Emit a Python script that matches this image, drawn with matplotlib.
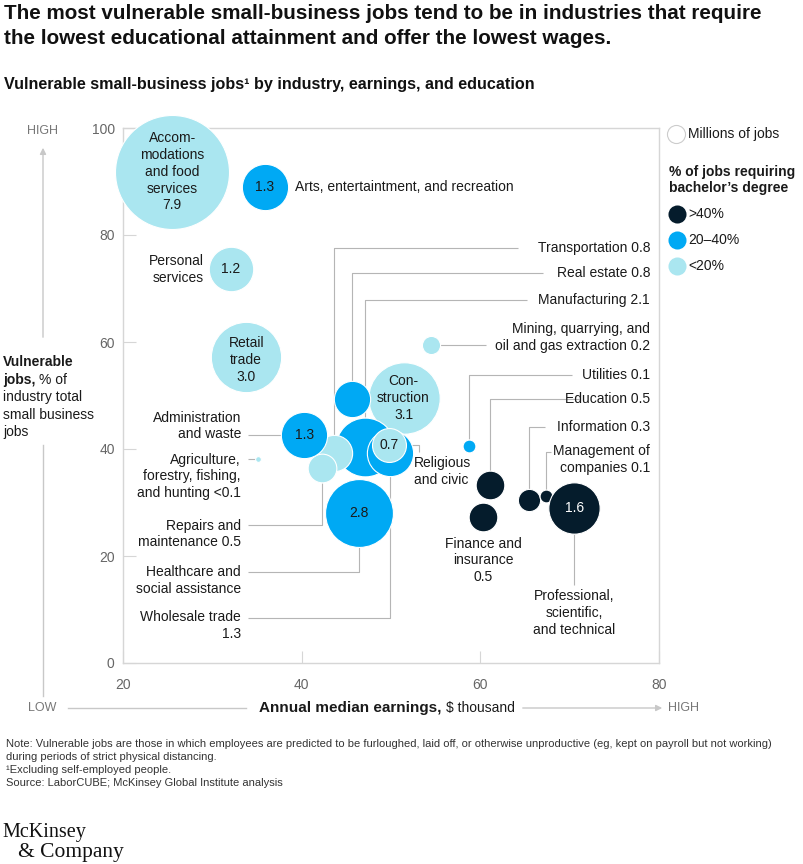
import numpy as np
import matplotlib.pyplot as plt
from matplotlib.lines import Line2D
from matplotlib.patches import FancyArrowPatch

plt.rcParams['font.family'] = ['Liberation Sans', 'DejaVu Sans']

# data
industries = ['Accommodations and food services', 'Arts, entertainment, and recreation',
              'Personal services', 'Retail trade', 'Construction', 'Real estate',
              'Transportation', 'Repairs and maintenance', 'Manufacturing',
              'Healthcare and social assistance', 'Wholesale trade', 'Religious and civic',
              'Administration and waste', 'Agriculture, forestry, fishing, and hunting',
              'Mining, quarrying, and oil and gas extraction', 'Utilities', 'Education',
              'Finance and insurance', 'Information', 'Management of companies',
              'Professional, scientific, and technical']
earnings = [25.5, 35.9, 32.1, 33.8, 51.4, 45.6, 43.6, 42.3, 47.1, 46.4, 49.9, 49.8,
            40.3, 35.1, 54.5, 58.7, 61.1, 60.3, 65.5, 67.3, 70.5]
vulnerable = [91.8, 89.0, 73.6, 57.2, 49.5, 49.3, 39.3, 36.4, 40.4, 28.0, 39.2, 40.8,
              42.6, 38.1, 59.4, 40.6, 33.3, 27.3, 30.5, 31.2, 29.0]
jobs = [7.9, 1.3, 1.2, 3.0, 3.1, 0.8, 0.8, 0.5, 2.1, 2.8, 1.3, 0.7,
        1.3, 0.02, 0.2, 0.1, 0.5, 0.5, 0.3, 0.1, 1.6]
degree = ['low', 'mid', 'low', 'low', 'low', 'mid', 'low', 'low', 'mid', 'mid', 'mid', 'low',
          'mid', 'low', 'low', 'mid', 'high', 'high', 'high', 'high', 'high']
# drawing order (later = on top)
order = [0, 1, 2, 3, 4, 5, 8, 9, 10, 11, 6, 7, 12, 13, 14, 15, 16, 17, 18, 19, 20]

colors = {'high': '#051c2c', 'mid': '#00a9f4', 'low': '#aae6f0'}
LINE = '#b5b5b5'
AX = '#d6d6d6'

W, H = 804, 864
fig = plt.figure(figsize=(W / 100, H / 100), dpi=100)


def fp(x, y):
    # top-left pixel -> figure fraction
    return x / W, 1 - y / H


ax = fig.add_axes([123 / W, 1 - 663 / H, 536 / W, 535 / H])
ax.set_xlim(20, 80)
ax.set_ylim(0, 100)

scale = 853.0  # points^2 per million jobs
for i in order:
    ax.scatter(earnings[i], vulnerable[i], s=jobs[i] * scale, color=colors[degree[i]],
               edgecolor='white', linewidth=0.8, zorder=3, clip_on=False)

# bubble radius in data units
px_x = 536 / 60
px_y = 535 / 100


def rx(i):
    return 57 * np.sqrt(jobs[i] / 7.9) / px_x


def ry(i):
    return 57 * np.sqrt(jobs[i] / 7.9) / px_y


for sp in ax.spines.values():
    sp.set_color(AX)
    sp.set_linewidth(1)
ax.set_xticks([20, 40, 60, 80])
ax.set_yticks([0, 20, 40, 60, 80, 100])
ax.tick_params(direction='in', length=9, color=AX, labelcolor='#666666', labelsize=10)
ax.tick_params(axis='x', pad=11)
ax.tick_params(axis='y', pad=6)

fs = 10
ink = '#1a1a1a'


def lead(pts):
    xs, ys = zip(*pts)
    ax.plot(xs, ys, color=LINE, lw=0.8, zorder=1, solid_capstyle='butt')


# text inside bubbles
ax.text(earnings[0], vulnerable[0], 'Accom-\nmodations\nand food\nservices\n7.9', ha='center',
        va='center', fontsize=fs, color=ink, zorder=5, linespacing=1.25)
ax.text(earnings[1], vulnerable[1], '1.3', ha='center', va='center', fontsize=fs, color=ink, zorder=5)
ax.text(earnings[2], vulnerable[2], '1.2', ha='center', va='center', fontsize=fs, color=ink, zorder=5)
ax.text(earnings[3], vulnerable[3] - 0.6, 'Retail\ntrade\n3.0', ha='center', va='center', fontsize=fs,
        color=ink, zorder=5, linespacing=1.25)
ax.text(earnings[4], vulnerable[4], 'Con-\nstruction\n3.1', ha='center', va='center', fontsize=fs,
        color=ink, zorder=5, linespacing=1.25)
ax.text(earnings[9], vulnerable[9], '2.8', ha='center', va='center', fontsize=fs, color=ink, zorder=5)
ax.text(earnings[11], vulnerable[11], '0.7', ha='center', va='center', fontsize=fs, color=ink, zorder=5)
ax.text(earnings[12], vulnerable[12], '1.3', ha='center', va='center', fontsize=fs, color=ink, zorder=5)
ax.text(earnings[20], vulnerable[20], '1.6', ha='center', va='center', fontsize=fs, color='white', zorder=5)

# plain labels
ax.text(39.3, vulnerable[1], 'Arts, entertaintment, and recreation', ha='left', va='center',
        fontsize=fs, color=ink)
ax.text(29.0, vulnerable[2], 'Personal\nservices', ha='right', va='center', fontsize=fs, color=ink,
        linespacing=1.25)
ax.text(earnings[17], 23.6, 'Finance and\ninsurance\n0.5', ha='center', va='top', fontsize=fs,
        color=ink, linespacing=1.25)

# right-hand callouts
RX = 79.0
ax.text(RX, 77.6, 'Transportation 0.8', ha='right', va='center', fontsize=fs, color=ink)
lead([(earnings[6], vulnerable[6] + ry(6)), (earnings[6], 77.6), (64.2, 77.6)])
ax.text(RX, 72.9, 'Real estate 0.8', ha='right', va='center', fontsize=fs, color=ink)
lead([(earnings[5], vulnerable[5] + ry(5)), (earnings[5], 72.9), (67.0, 72.9)])
ax.text(RX, 67.9, 'Manufacturing 2.1', ha='right', va='center', fontsize=fs, color=ink)
lead([(earnings[8], vulnerable[8] + ry(8)), (earnings[8], 67.9), (65.2, 67.9)])
ax.text(RX, 60.8, 'Mining, quarrying, and\noil and gas extraction 0.2', ha='right', va='center',
        fontsize=fs, color=ink, linespacing=1.25)
lead([(earnings[14] + rx(14), vulnerable[14]), (60.6, vulnerable[14])])
ax.text(RX, 53.8, 'Utilities 0.1', ha='right', va='center', fontsize=fs, color=ink)
lead([(earnings[15], vulnerable[15] + ry(15)), (earnings[15], 53.8), (70.3, 53.8)])
ax.text(RX, 49.3, 'Education 0.5', ha='right', va='center', fontsize=fs, color=ink)
lead([(earnings[16], vulnerable[16] + ry(16)), (earnings[16], 49.3), (71.0, 49.3)])
ax.text(RX, 44.1, 'Information 0.3', ha='right', va='center', fontsize=fs, color=ink)
lead([(earnings[18], vulnerable[18] + ry(18)), (earnings[18], 44.1), (67.2, 44.1)])
ax.text(RX, 38.0, 'Management of\ncompanies 0.1', ha='right', va='center', fontsize=fs, color=ink,
        linespacing=1.25)
lead([(earnings[19], vulnerable[19] + ry(19)), (earnings[19], 39.4), (67.9, 39.4)])
ax.text(52.6, 35.8, 'Religious\nand civic', ha='left', va='center', fontsize=fs, color=ink,
        linespacing=1.25)
lead([(earnings[11] + rx(11), vulnerable[11]), (53.1, vulnerable[11]), (53.1, 39.4)])
ax.text(earnings[20], 13.8, 'Professional,\nscientific,\nand technical', ha='center', va='top',
        fontsize=fs, color=ink, linespacing=1.25)
lead([(earnings[20], vulnerable[20] - ry(20)), (earnings[20], 14.6)])

# left-hand callouts
LX = 33.2
ax.text(LX, 44.3, 'Administration\nand waste', ha='right', va='center', fontsize=fs, color=ink,
        linespacing=1.25)
lead([(34.0, vulnerable[12]), (earnings[12] - rx(12), vulnerable[12])])
ax.text(LX, 34.9, 'Agriculture,\nforestry, fishing,\nand hunting <0.1', ha='right', va='center',
        fontsize=fs, color=ink, linespacing=1.25)
lead([(34.0, vulnerable[13]), (earnings[13] - 0.2, vulnerable[13])])
ax.text(LX, 24.1, 'Repairs and\nmaintenance 0.5', ha='right', va='center', fontsize=fs, color=ink,
        linespacing=1.25)
lead([(34.0, 25.8), (earnings[7], 25.8), (earnings[7], vulnerable[7] - ry(7))])
ax.text(LX, 15.4, 'Healthcare and\nsocial assistance', ha='right', va='center', fontsize=fs,
        color=ink, linespacing=1.25)
lead([(34.0, 17.0), (earnings[9], 17.0), (earnings[9], vulnerable[9] - ry(9))])
ax.text(LX, 7.0, 'Wholesale trade\n1.3', ha='right', va='center', fontsize=fs, color=ink,
        linespacing=1.25)
lead([(34.0, 8.4), (earnings[10], 8.4), (earnings[10], vulnerable[10] - ry(10))])

# titles
fig.text(*fp(4, 4), 'The most vulnerable small-business jobs tend to be in industries that require\n'
         'the lowest educational attainment and offer the lowest wages.', ha='left', va='top',
         fontsize=14.9, fontweight='bold', color='#111111', linespacing=1.38)
fig.text(*fp(4, 84), 'Vulnerable small-business jobs\u00b9 by industry, earnings, and education',
         ha='left', va='center', fontsize=11.6, fontweight='bold', color='#111111')

# legend
fig.add_artist(Line2D([fp(676, 134)[0]], [fp(676, 134)[1]], marker='o', markersize=13,
                      markerfacecolor='white', markeredgecolor='#cccccc', markeredgewidth=0.8,
                      transform=fig.transFigure))
fig.text(*fp(688, 134), 'Millions of jobs', ha='left', va='center', fontsize=fs, color=ink)
fig.text(*fp(669, 180), '% of jobs requiring\nbachelor\u2019s degree', ha='left', va='center',
         fontsize=fs, fontweight='bold', color=ink, linespacing=1.25)
for yy, key, lab in [(214, 'high', '>40%'), (240, 'mid', '20\u201340%'), (266, 'low', '<20%')]:
    fig.add_artist(Line2D([fp(677, yy)[0]], [fp(677, yy)[1]], marker='o', markersize=13,
                          markerfacecolor=colors[key], markeredgecolor='none',
                          transform=fig.transFigure))
    fig.text(*fp(688, yy), lab, ha='left', va='center', fontsize=fs, color=ink)

# axis descriptors
gray = '#c8c8c8'
fig.text(*fp(43, 131), 'HIGH', ha='center', va='center', fontsize=9, color='#777777')
fig.add_artist(FancyArrowPatch(fp(43, 340), fp(43, 145), transform=fig.transFigure,
                               arrowstyle='-|>', mutation_scale=9, color=gray, lw=1))
fig.add_artist(Line2D([fp(43, 445)[0]] * 2, [fp(43, 445)[1], fp(43, 696)[1]], color=gray, lw=1,
                      transform=fig.transFigure))
fig.text(*fp(3, 362), 'Vulnerable', ha='left', va='center', fontsize=fs, fontweight='bold', color=ink)
fig.text(*fp(3, 380), 'jobs,', ha='left', va='center', fontsize=fs, fontweight='bold', color=ink)
fig.text(*fp(39, 380), '% of', ha='left', va='center', fontsize=fs, color=ink)
for yy, line in [(397, 'industry total'), (415, 'small business'), (432, 'jobs')]:
    fig.text(*fp(3, yy), line, ha='left', va='center', fontsize=fs, color=ink)

fig.text(*fp(28, 708), 'LOW', ha='left', va='center', fontsize=9, color='#777777')
fig.add_artist(Line2D([fp(68, 708)[0], fp(246, 708)[0]], [fp(68, 708)[1]] * 2, color=gray, lw=1,
                      transform=fig.transFigure))
fig.text(*fp(259, 708), 'Annual median earnings,', ha='left', va='center', fontsize=11,
         fontweight='bold', color=ink)
fig.text(*fp(446, 708), '\\$ thousand', ha='left', va='center', fontsize=10, color=ink)
fig.add_artist(FancyArrowPatch(fp(520, 708), fp(665, 708), transform=fig.transFigure,
                               arrowstyle='-|>', mutation_scale=9, color=gray, lw=1))
fig.text(*fp(668, 708), 'HIGH', ha='left', va='center', fontsize=9, color='#777777')

# notes
notes = ('Note: Vulnerable jobs are those in which employees are predicted to be furloughed, laid off, '
         'or otherwise unproductive (eg, kept on payroll but not working)\n'
         'during periods of strict physical distancing.\n'
         '\u00b9Excluding self-employed people.\n'
         'Source: LaborCUBE; McKinsey Global Institute analysis')
fig.text(*fp(6, 739), notes, ha='left', va='top', fontsize=8, color='#333333', linespacing=1.37)

# logo
fig.text(*fp(2, 833), 'McKinsey', ha='left', va='center', fontsize=14.5, color='#111111',
         family=['Liberation Serif', 'DejaVu Serif'])
fig.text(*fp(18, 853), '& Company', ha='left', va='center', fontsize=15.5, color='#111111',
         family=['Liberation Serif', 'DejaVu Serif'])

fig.savefig('out.png', dpi=100, facecolor='white')
